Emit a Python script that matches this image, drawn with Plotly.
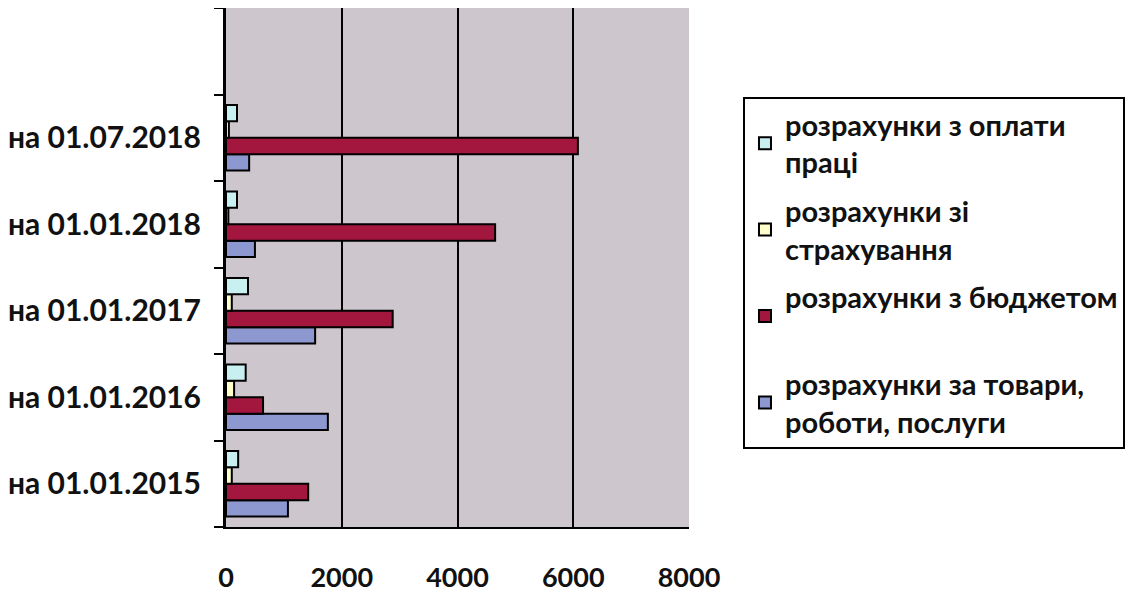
import plotly.graph_objects as go

categories = ["на 01.01.2015", "на 01.01.2016", "на 01.01.2017", "на 01.01.2018", "на 01.07.2018", " "]
oplaty_pratsi = [210, 340, 380, 190, 190, None]
strakhuvannia = [100, 140, 100, 40, 50, None]
biudzhet = [1420, 640, 2880, 4650, 6080, None]
tovary = [1070, 1760, 1540, 500, 400, None]
x_ticks = [0, 2000, 4000, 6000, 8000]

names = ["розрахунки з оплати<br>праці", "розрахунки зі<br>страхування",
         "розрахунки з бюджетом<br> ", "розрахунки за товари,<br>роботи, послуги"]
colors = ["#C8F0F0", "#FFFFCC", "#A3173F", "#8E98D0"]

fig = go.Figure()
series = [tovary, biudzhet, strakhuvannia, oplaty_pratsi]
idx = [3, 2, 1, 0]
for s, i in zip(series, idx):
    fig.add_trace(go.Bar(
        y=categories, x=s, orientation="h", name=names[i],
        marker=dict(color=colors[i], line=dict(color="black", width=2)),
        legendrank=i, legendgroup="g%d" % i,
    ))

font_fam = "Lato"
fig.update_layout(
    width=1136, height=594,
    margin=dict(l=218, r=455, t=0, b=75, autoexpand=False),
    paper_bgcolor="white", plot_bgcolor="#CDC6CD",
    barmode="group", bargap=0.24, bargroupgap=0,
    showlegend=True,
    legend=dict(x=1.1166, y=0.8285, xanchor="left", yanchor="top",
                bordercolor="black", borderwidth=2, bgcolor="white",
                font=dict(family=font_fam, size=29, color="#111", weight="bold"),
                tracegroupgap=8, traceorder="grouped"),
    font=dict(family=font_fam, size=28, color="#111"),
)
fig.update_xaxes(range=[0, 8000], tickvals=x_ticks, ticktext=[str(v) for v in x_ticks],
                 showgrid=True, gridcolor="black", gridwidth=2,
                 showline=True, linecolor="black", linewidth=2, mirror=True,
                 zeroline=False, ticks="", ticklabelstandoff=26, automargin=False,
                 tickfont=dict(family=font_fam, size=27, color="#111", weight="bold"))
fig.update_yaxes(categoryorder="array", categoryarray=categories,
                 showline=True, linecolor="black", linewidth=3,
                 ticks="outside", tickson="boundaries", ticklen=9, tickwidth=2, tickcolor="black",
                 showgrid=False, ticklabelstandoff=16, automargin=False,
                 tickfont=dict(family=font_fam, size=30, color="#111", weight="bold"))
fig.write_html("out.html")
